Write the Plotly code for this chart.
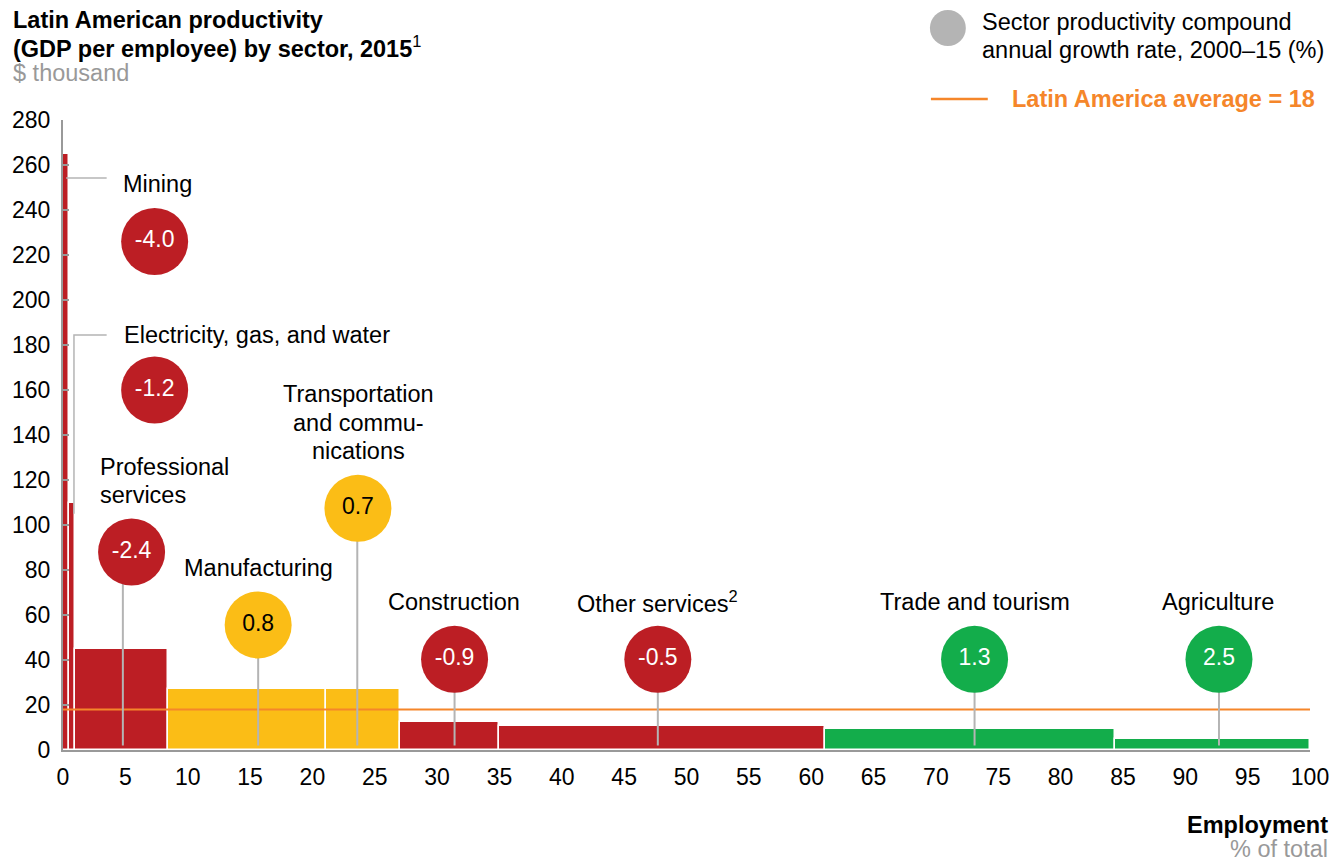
import plotly.graph_objects as go

# ---------------- data ----------------
sectors = ["Mining", "Electricity, gas, and water", "Professional services",
           "Manufacturing", "Transportation and communications", "Construction",
           "Other services", "Trade and tourism", "Agriculture"]
employment_share = [0.5, 0.5, 7.4, 12.7, 5.9, 8.0, 26.1, 23.3, 15.6]   # % of total
productivity = [265, 110, 45, 27, 27, 12.5, 10.5, 9.5, 4.8]           # $ thousand
cagr = [-4.0, -1.2, -2.4, 0.8, 0.7, -0.9, -0.5, 1.3, 2.5]             # % 2000-15
latam_average = 18
x_ticks = list(range(0, 101, 5))
y_ticks = list(range(0, 281, 20))

# ---------------- layout helpers (positions/styles) ----------------
RED, YELLOW, GREEN = "#BC1E24", "#FBBD16", "#13AD4B"
ORANGE, GRAY = "#F5862A", "#B4B4B4"
FONT = "Arial, 'Liberation Sans', sans-serif"

def sector_color(g):
    if g < 0:
        return RED
    if g < 1:
        return YELLOW
    return GREEN

bubble_x = [7.35, 7.35, 5.5, 15.65, 23.65, 31.4, 47.7, 73.1, 92.7]
bubble_y = [226, 160, 88, 55.6, 107.4, 40.3, 40.3, 40.3, 40.3]
stem_x = [None, None, 4.8, 15.65, 23.6, 31.4, 47.7, 73.1, 92.7]

# plot area in pixels
L, R, T, B = 61, 1311, 120, 750
W, H = 1341, 861

def px(x):
    return (x - L) / (R - L)

def py(y):
    return (B - y) / (B - T)

# bar geometry from cumulative employment shares
lefts, acc = [], 0.0
for w in employment_share:
    lefts.append(acc)
    acc += w
mids = [l + w / 2 for l, w in zip(lefts, employment_share)]
colors = [sector_color(g) for g in cagr]

fig = go.Figure()

fig.add_trace(go.Bar(
    x=mids, y=productivity, width=employment_share,
    marker=dict(color=colors, line=dict(color="white", width=1.5)),
    hoverinfo="skip", showlegend=False))

# average line
fig.add_trace(go.Scatter(
    x=[0, 100], y=[latam_average, latam_average], mode="lines",
    line=dict(color=ORANGE, width=2), hoverinfo="skip", showlegend=False))

# stems
for sx, by in zip(stem_x, bubble_y):
    if sx is None:
        continue
    fig.add_trace(go.Scatter(x=[sx, sx], y=[2, by], mode="lines",
                             line=dict(color=GRAY, width=2),
                             hoverinfo="skip", showlegend=False))

# leaders for the two thin bars
fig.add_trace(go.Scatter(x=[0.25, 3.5], y=[254.2, 254.2], mode="lines",
                         line=dict(color=GRAY, width=1.5), hoverinfo="skip", showlegend=False))
fig.add_trace(go.Scatter(x=[0.88, 0.88, 3.5], y=[105, 184.4, 184.4], mode="lines",
                         line=dict(color=GRAY, width=1.5), hoverinfo="skip", showlegend=False))

# bubbles
text_colors = ["black" if c == YELLOW else "white" for c in colors]
fig.add_trace(go.Scatter(
    x=bubble_x, y=bubble_y, mode="markers+text",
    marker=dict(size=67, color=colors, line=dict(width=0)),
    text=[f"{g:.1f}" for g in cagr], textposition="middle center",
    textfont=dict(family=FONT, size=23, color=text_colors),
    hoverinfo="skip", showlegend=False, cliponaxis=False))

ann = []
LBL = 23.5

def add_text(text, x, y, xanchor="left", size=LBL, color="black"):
    ann.append(dict(text=text, x=px(x), y=py(y), xref="paper", yref="paper",
                    xanchor=xanchor, yanchor="middle", showarrow=False,
                    font=dict(family=FONT, size=size, color=color)))

def add_lines(lines, x, y0, step, xanchor="left", size=LBL, color="black"):
    for i, t in enumerate(lines):
        add_text(t, x, y0 + i * step, xanchor, size, color)

# sector labels
add_text("Mining", 119, 184)
add_text("Electricity, gas, and water", 120, 335)
add_lines(["Professional", "services"], 96, 467, 27.5)
add_text("Manufacturing", 257, 568, "center")
add_lines(["Transportation", "and commu-", "nications"], 357, 394, 28.5, "center")
add_text("Construction", 453, 602, "center")
add_text("Other services<sup>2</sup>", 657, 602, "center")
add_text("Trade and tourism", 975, 602, "center")
add_text("Agriculture", 1219, 602, "center")

# title
add_text("<b>Latin American productivity</b>", 9, 20)
add_text("<b>(GDP per employee) by sector, 2015</b><sup>1</sup>", 9, 47)
add_text("$ thousand", 9, 73, color="#999999")

# legend
add_lines(["Sector productivity compound", "annual growth rate, 2000–15 (%)"], 980, 22, 28)
add_text("<b>Latin America average = 18</b>", 1010, 99, color=ORANGE)

# x axis title
add_text("<b>Employment</b>", 1331, 825, xanchor="right")
add_text("% of total", 1331, 849, xanchor="right", color="#999999")

shapes = [
    dict(type="circle", xref="paper", yref="paper",
         x0=px(930), x1=px(966), y0=py(46), y1=py(10),
         fillcolor="#B4B4B4", line=dict(width=0)),
    dict(type="line", xref="paper", yref="paper",
         x0=px(931), x1=px(988), y0=py(99), y1=py(99),
         line=dict(color=ORANGE, width=2.5)),
]

fig.update_layout(
    width=W, height=H,
    margin=dict(l=L, r=W - R, t=T, b=H - B, pad=0),
    paper_bgcolor="white", plot_bgcolor="white",
    font=dict(family=FONT, size=23, color="black"),
    annotations=ann, shapes=shapes, bargap=0,
    xaxis=dict(range=[0, 100], tickvals=x_ticks, showgrid=False, zeroline=False,
               showline=True, linecolor="#999999", linewidth=2, ticks="",
               tickfont=dict(size=23), ticklabelstandoff=5),
    yaxis=dict(range=[0, 280], tickvals=y_ticks, showgrid=False, zeroline=False,
               showline=True, linecolor="#999999", linewidth=2, ticks="inside",
               ticklen=6, tickcolor="#999999", tickwidth=1.5,
               tickfont=dict(size=23), ticklabelstandoff=6),
)

fig.write_html("out.html", config={"displayModeBar": False},
               post_script="document.body.style.margin='0';")
